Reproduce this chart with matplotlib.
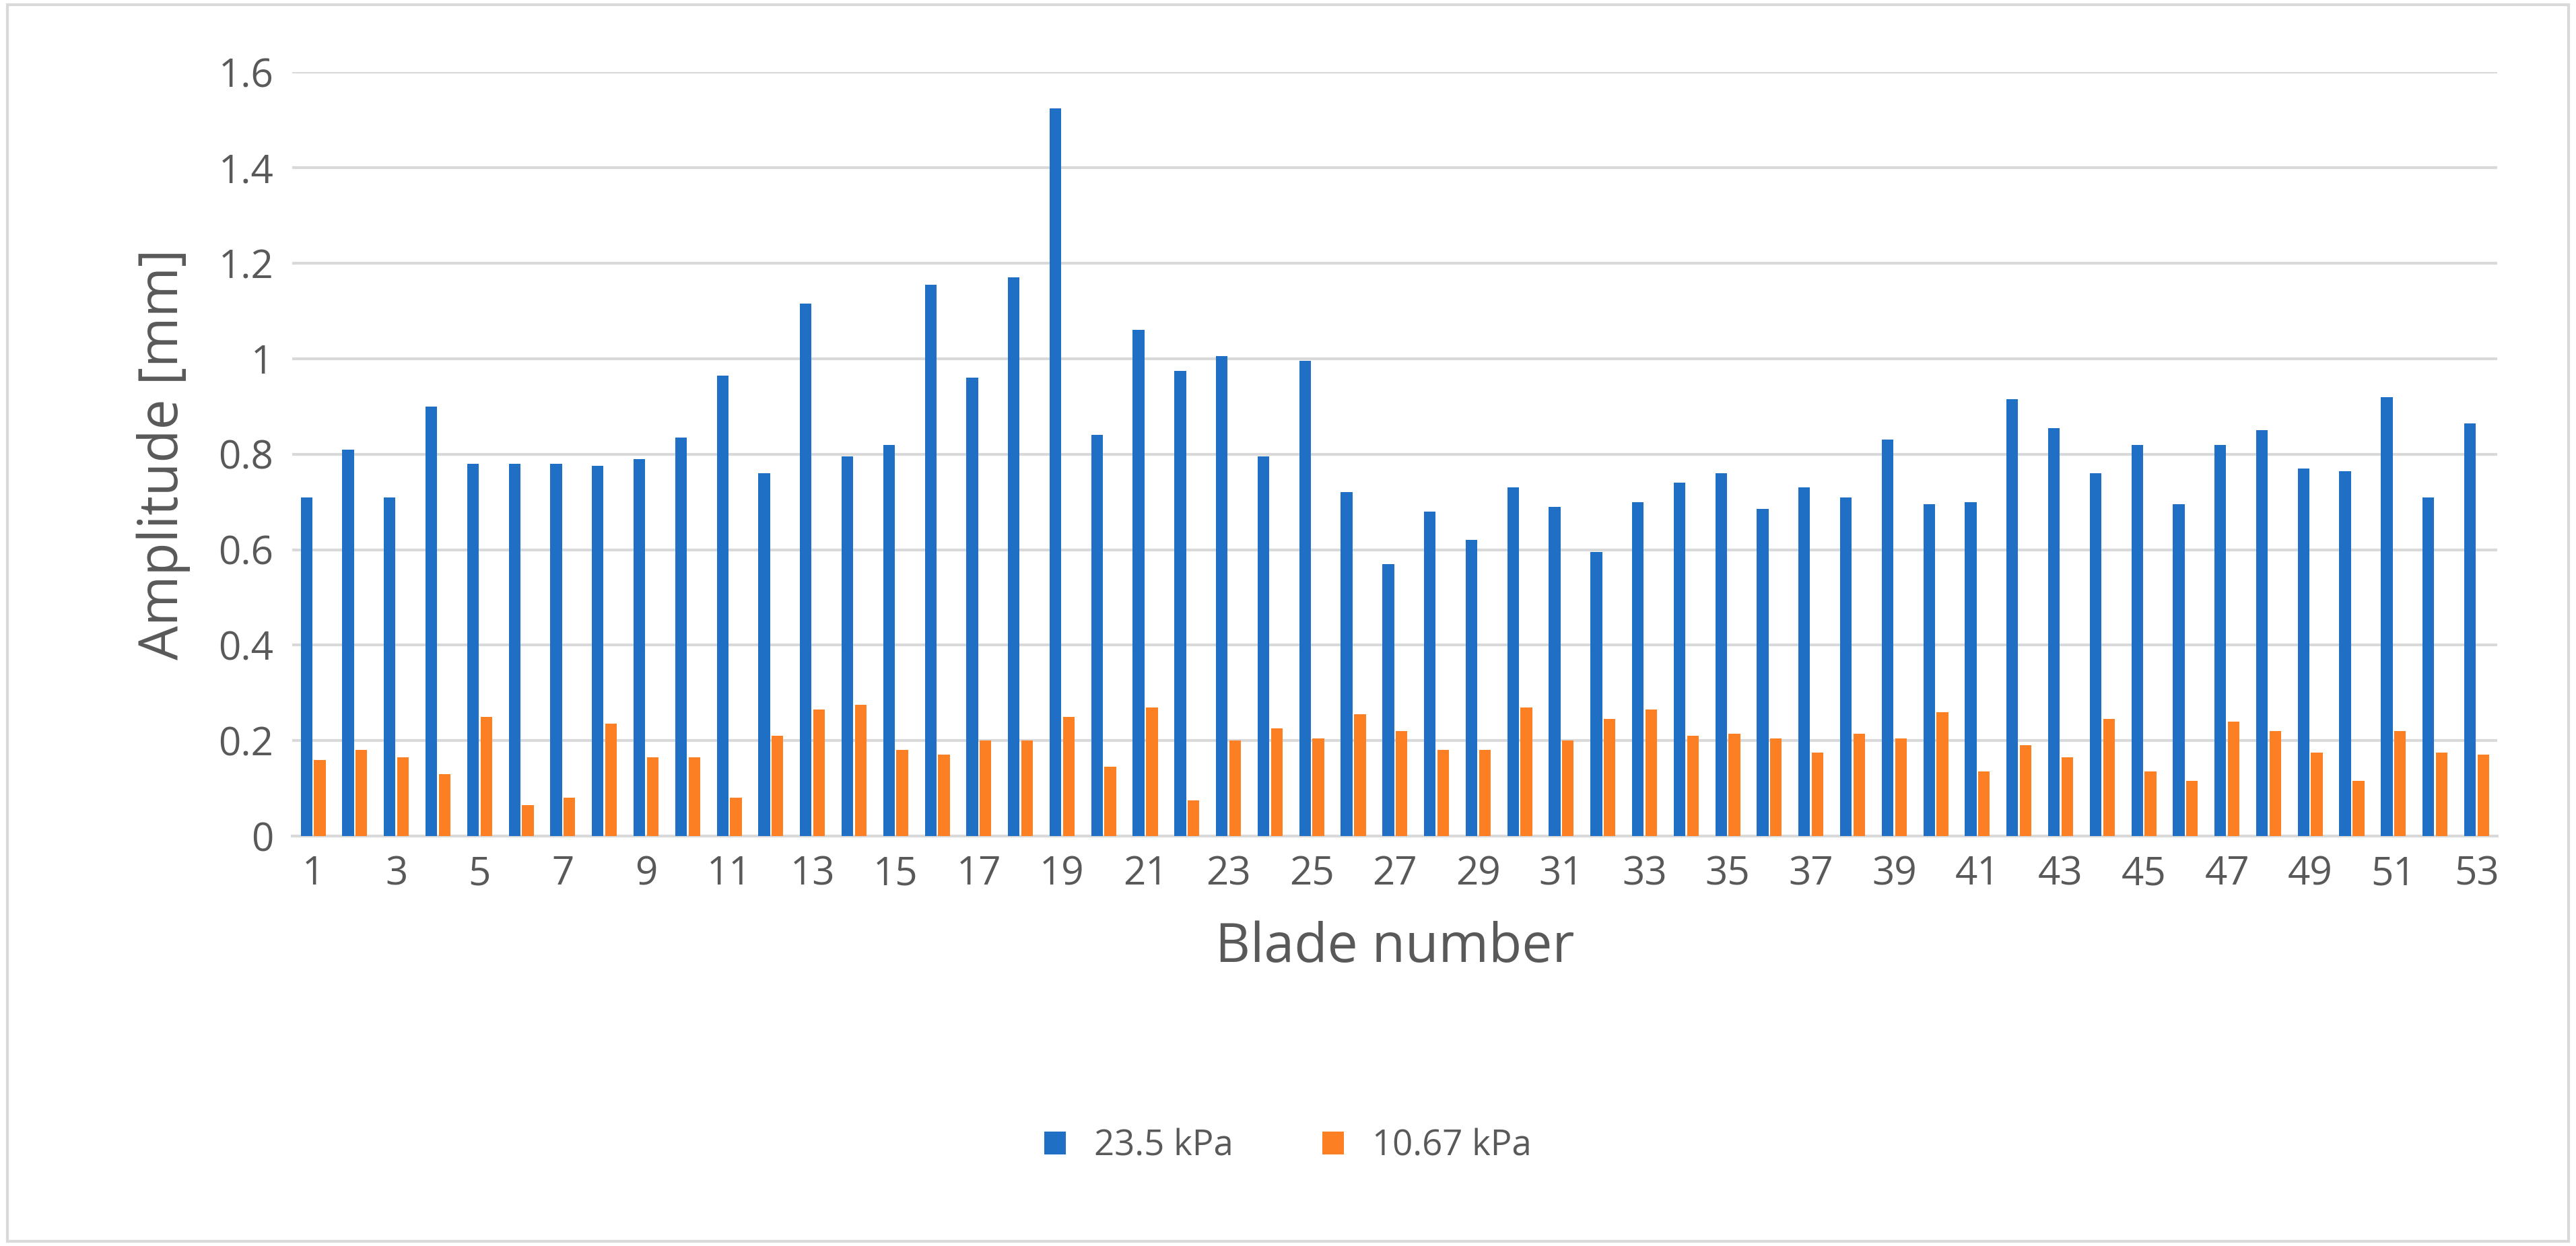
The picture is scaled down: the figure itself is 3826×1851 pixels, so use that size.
import matplotlib
matplotlib.use("Agg")
import matplotlib.pyplot as plt
import numpy as np
from matplotlib.patches import Rectangle

plt.rcParams['font.family'] = ['Open Sans', 'DejaVu Sans']

blades = list(range(1, 54))
high = [0.71,0.81,0.71,0.90,0.78,0.78,0.78,0.775,0.79,0.835,0.965,0.76,1.115,0.795,0.82,1.155,0.96,1.17,1.525,0.84,
        1.06,0.975,1.005,0.795,0.995,0.72,0.57,0.68,0.62,0.73,0.69,0.595,0.70,0.74,0.76,0.685,0.73,0.71,0.83,0.695,
        0.70,0.915,0.855,0.76,0.82,0.695,0.82,0.85,0.77,0.765,0.92,0.71,0.865]
low = [0.16,0.18,0.165,0.13,0.25,0.065,0.08,0.235,0.165,0.165,0.08,0.21,0.265,0.275,0.18,0.17,0.20,0.20,0.25,0.145,
       0.27,0.075,0.20,0.225,0.205,0.255,0.22,0.18,0.18,0.27,0.20,0.245,0.265,0.21,0.215,0.205,0.175,0.215,0.205,0.26,
       0.135,0.19,0.165,0.245,0.135,0.115,0.24,0.22,0.175,0.115,0.22,0.175,0.17]
labels = ["23.5 kPa", "10.67 kPa"]

fig = plt.figure(figsize=(38.26, 18.51), dpi=100)
fig.patches.append(Rectangle((0.003, 0.004), 0.994, 0.992, transform=fig.transFigure,
                             fill=False, edgecolor="#d9d9d9", linewidth=3))
ax = fig.add_axes([0.1135, 0.329, 0.856, 0.613])
x = np.array(blades)
ax.bar(x - 0.16, high, width=0.28, color="#1f6fc5", label=labels[0], zorder=3)
ax.bar(x + 0.16, low, width=0.28, color="#fd7f24", label=labels[1], zorder=3)
ax.set_xlim(0.5, 53.5)
ax.set_ylim(0, 1.6)
ax.set_yticks(np.arange(0, 1.61, 0.2))
ax.set_yticklabels(["0", "0.2", "0.4", "0.6", "0.8", "1", "1.2", "1.4", "1.6"])
ax.set_xticks(blades)
ax.set_xticklabels([str(b) if b % 2 == 1 else "" for b in blades])
ax.tick_params(axis="both", length=0, labelsize=42, colors="#595959", pad=20)
ax.grid(axis="y", color="#d9d9d9", linewidth=3, zorder=0)
for s in ["top", "right", "left"]:
    ax.spines[s].set_visible(False)
ax.spines["bottom"].set_color("#d9d9d9")
ax.spines["bottom"].set_linewidth(3)
ax.set_ylabel("Amplitude [mm]", fontsize=58, color="#595959", labelpad=30)
ax.set_xlabel("Blade number", fontsize=58, color="#595959", labelpad=28)
fig.legend(loc="center", bbox_to_anchor=(0.5, 0.08), ncol=2, frameon=False, fontsize=38,
           labelcolor="#595959", handlelength=0.6, handleheight=0.6, columnspacing=2.5)
fig.savefig("out.png", dpi=100)
